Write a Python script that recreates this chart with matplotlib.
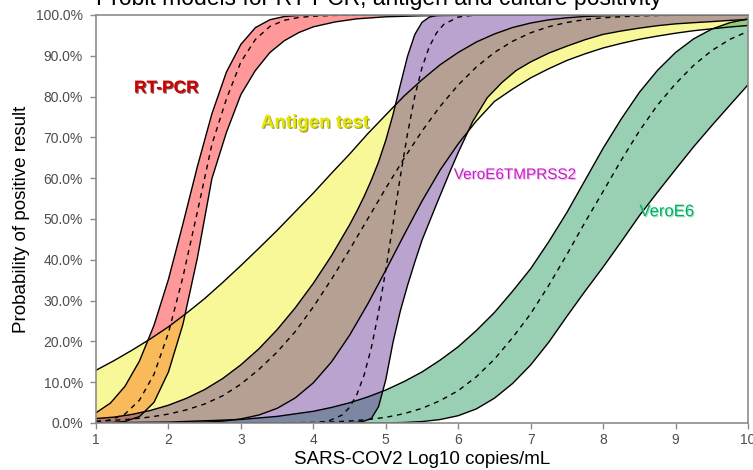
from matplotlib import pyplot as plt
from matplotlib import patheffects as pe

plt.rcParams['font.family'] = ['Liberation Sans', 'DejaVu Sans']

# ---- RT-PCR (percent positive vs log10 copies/mL) ----
rt_x = [1.0, 1.2, 1.4, 1.6, 1.8, 2.0, 2.2, 2.4, 2.6, 2.8, 3.0, 3.2, 3.4, 3.6, 3.8, 4.0,
        4.3, 4.6, 5.0, 5.5, 6.0, 7.0, 10.0]
rt_hi = [2.5, 4.9, 9.0, 15.2, 23.9, 35.2, 48.8, 62.9, 75.8, 86.0, 92.8, 96.9, 98.84, 99.63, 99.90, 99.97,
         100, 100, 100, 100, 100, 100, 100]
rt_lo = [0.01, 0.07, 0.37, 1.58, 5.05, 12.5, 24.2, 40.5, 59.9, 71.2, 80.5, 86.4, 90.8, 93.7, 95.7, 97.1,
         98.3, 99.06, 99.56, 99.81, 99.92, 99.98, 100]
rt_mid = [0.22, 0.75, 2.2, 5.6, 11.9, 22.1, 35.8, 51.8, 68.3, 79.4, 88.5, 94.0, 97.2, 98.7, 99.4, 99.7,
          99.9, 99.95, 100, 100, 100, 100, 100]

# ---- Antigen test ----
ag_x = [1.0, 1.25, 1.5, 1.75, 2.0, 2.25, 2.5, 2.75, 3.0, 3.25, 3.5, 3.75, 4.0, 4.25, 4.5, 4.75,
        5.0, 5.25, 5.5, 5.75, 6.0, 6.25, 6.5, 6.75, 7.0, 7.25, 7.5, 7.75, 8.0, 8.25, 8.5, 8.75,
        9.0, 9.25, 9.5, 9.75, 10.0]
ag_hi = [12.92, 15.3, 17.88, 20.61, 23.58, 26.93, 30.5, 34.46, 38.59, 42.86, 47.21, 51.79, 56.36, 61.2,
         65.9, 70.88, 75.5, 80.1, 84.13, 87.8, 90.82, 93.38, 95.35, 96.93, 98.03, 98.82, 99.32, 99.64,
         99.82, 99.91, 99.96, 99.98, 99.99, 100, 100, 100, 100]
ag_lo = [0.0, 0.001, 0.003, 0.01, 0.03, 0.08, 0.2, 0.47, 0.99, 1.97, 3.59, 6.14, 9.85, 14.95, 21.49,
         29.14, 37.46, 46.02, 54.38, 61.98, 68.43, 74.02, 78.81, 81.84, 84.59, 86.84, 88.86, 90.48,
         91.92, 93.04, 94.04, 94.83, 95.54, 96.15, 96.62, 97.06, 97.43]
ag_mid = [0.44, 0.66, 0.98, 1.47, 2.18, 3.23, 4.66, 6.68, 9.52, 13.16, 17.39, 22.39, 28.46, 35.21,
          42.47, 50.0, 57.53, 64.79, 71.54, 77.61, 82.86, 87.25, 90.82, 93.56, 95.64, 97.13, 98.17,
          98.87, 99.32, 99.58, 99.78, 99.88, 99.94, 99.97, 99.99, 100, 100]

# ---- VeroE6 culture ----
ve_x = [1.0, 2.0, 3.0, 3.5, 4.0, 4.25, 4.5, 4.75, 5.0, 5.25, 5.5, 5.75, 6.0, 6.25, 6.5, 6.75,
        7.0, 7.25, 7.5, 7.75, 8.0, 8.25, 8.5, 8.75, 9.0, 9.25, 9.5, 9.75, 10.0]
ve_hi = [0.05, 0.22, 0.87, 1.62, 2.87, 3.81, 4.95, 6.38, 8.08, 10.14, 12.51, 15.41, 18.69, 22.66,
         27.09, 32.29, 37.83, 44.44, 51.6, 59.47, 67.34, 74.51, 81.03, 86.43, 90.82, 94.16, 96.55,
         98.12, 99.05]
ve_lo = [0, 0, 0, 0, 0, 0, 0, 0.01, 0.03, 0.12, 0.35, 0.845, 1.79, 3.45, 6.08, 9.68, 14.23, 19.8,
         26.14, 32.29, 38.21, 44.44, 50.8, 56.55, 62.17, 67.71, 72.89, 77.91, 82.89]
ve_mid = [0, 0, 0.008, 0.04, 0.14, 0.26, 0.48, 0.84, 1.39, 2.28, 3.59, 5.48, 7.93, 11.33, 15.64,
          20.91, 26.78, 33.74, 41.3, 49.2, 56.75, 64.42, 71.57, 77.91, 83.15, 87.67, 91.28, 94.04, 95.99]

# ---- VeroE6TMPRSS2 culture ----
tm_hi_x = [1.0, 1.25, 1.5, 1.75, 2.0, 2.25, 2.5, 2.75, 3.0, 3.25, 3.5, 3.75, 4.0, 4.25, 4.5,
           4.6, 4.7, 4.8, 4.9, 5.0, 5.1, 5.2, 5.3, 5.4, 5.5, 5.6, 5.7, 5.8, 5.9, 6.0, 10.0]
tm_hi = [1.1, 1.44, 2.12, 3.07, 4.36, 6.06, 8.2, 10.92, 14.26, 18.21, 22.88, 28.22, 34.24, 40.99, 48.56,
         51.9, 55.5, 59.5, 63.97, 69.3, 75.6, 82.8, 89.87, 95.2, 98.2, 99.48, 99.88, 99.98, 100, 100, 100]
tm_lo_x = [1.0, 4.0, 4.4, 4.6, 4.7, 4.8, 4.9, 5.0, 5.1, 5.2, 5.3, 5.4, 5.5, 5.6, 5.7, 5.8, 5.9, 6.0,
           6.2, 6.4, 6.6, 6.8, 7.0, 7.25, 7.5, 7.75, 8.0, 8.25, 8.5, 8.75, 9.0, 9.25, 9.5, 9.75, 10.0]
tm_lo = [0, 0, 0.01, 0.13, 0.47, 1.07, 4.0, 10.6, 19.8, 27.4, 33.7, 39.4, 44.8, 49.2, 53.6, 57.9, 62.2,
         66.3, 73.9, 79.7, 83.4, 86.4, 88.5, 90.66, 92.36, 93.94, 95.25, 96.08, 96.78, 97.38, 97.83,
         98.12, 98.38, 98.68, 98.9]
tm_mid_x = [1.0, 3.5, 4.0, 4.2, 4.4, 4.5, 4.6, 4.7, 4.8, 4.9, 5.0, 5.1, 5.2, 5.3, 5.4, 5.5, 5.6, 5.7,
            5.8, 6.0, 6.2, 6.5, 10.0]
tm_mid = [0, 0, 0.06, 0.41, 1.97, 3.84, 6.94, 11.7, 18.4, 27.1, 37.5, 48.8, 60.3, 70.9, 80.0, 87.1, 92.2,
          95.6, 97.7, 99.5, 99.92, 100, 100]

x_ticks = [1, 2, 3, 4, 5, 6, 7, 8, 9, 10]
y_ticks = [0, 10, 20, 30, 40, 50, 60, 70, 80, 90, 100]

GREY = '#8C8C8C'


def draw_band(ax, x_hi, hi, x_lo, lo, x_mid, mid, color):
    # polygon: upper curve forward, lower curve backwards
    poly_x = list(x_hi) + list(x_lo)[::-1]
    poly_y = list(hi) + list(lo)[::-1]
    ax.fill(poly_x, poly_y, color=color, alpha=0.4, lw=0)
    ax.plot(x_hi, hi, color='black', lw=1.0)
    ax.plot(x_lo, lo, color='black', lw=1.0)
    ax.plot(x_mid, mid, color='black', lw=1.0, linestyle=(0, (3.6, 3.4)))


fig = plt.figure(figsize=(7.53, 4.70), dpi=100)
ax = fig.add_axes([96 / 753, 1 - 423 / 470, 652 / 753, 408 / 470])

draw_band(ax, rt_x, rt_hi, rt_x, rt_lo, rt_x, rt_mid, '#FF0000')
draw_band(ax, ag_x, ag_hi, ag_x, ag_lo, ag_x, ag_mid, '#EEEE00')
draw_band(ax, ve_x, ve_hi, ve_x, ve_lo, ve_x, ve_mid, '#008B45')
draw_band(ax, tm_hi_x, tm_hi, tm_lo_x, tm_lo, tm_mid_x, tm_mid, '#551A8B')


def label(x, y, txt, color, shadow, size, weight='normal'):
    ax.text(x, y, txt, color=color, fontsize=size, fontweight=weight, ha='center', va='center',
            path_effects=[pe.withSimplePatchShadow(offset=(0.8, -0.8), shadow_rgbFace=shadow, alpha=0.7)])


label(1.97, 82.1, 'RT-PCR', '#CD0000', '#600000', 12.5, 'bold')
label(4.02, 73.5, 'Antigen test', '#E6E600', '#6B6B00', 13.5, 'bold')
label(6.78, 60.8, 'VeroE6TMPRSS2', '#C41FC4', '#E8A0E8', 11)
label(8.88, 51.8, 'VeroE6', '#00B060', '#70D8A8', 12)

ax.set_xlim(1, 10)
ax.set_ylim(0, 100)
ax.set_xticks(x_ticks)
ax.set_yticks(y_ticks)
ax.set_yticklabels([f'{v:.1f}%' for v in y_ticks])
ax.tick_params(colors=GREY, labelcolor='#4D4D4D', labelsize=10, length=4, width=1, pad=3)
ax.tick_params(axis='y', pad=5.5)
for s in ax.spines.values():
    s.set_color(GREY)
    s.set_linewidth(1.2)

ax.set_xlabel('SARS-COV2 Log10 copies/mL', fontsize=13.5, labelpad=3)
ax.set_ylabel('Probability of positive result', fontsize=13.5, labelpad=4)

fig.text(96 / 753, 1 - 5 / 470, 'Probit models for RT-PCR, antigen and culture positivity',
         fontsize=16.5, ha='left', va='baseline')

fig.savefig('out.png', dpi=100)
